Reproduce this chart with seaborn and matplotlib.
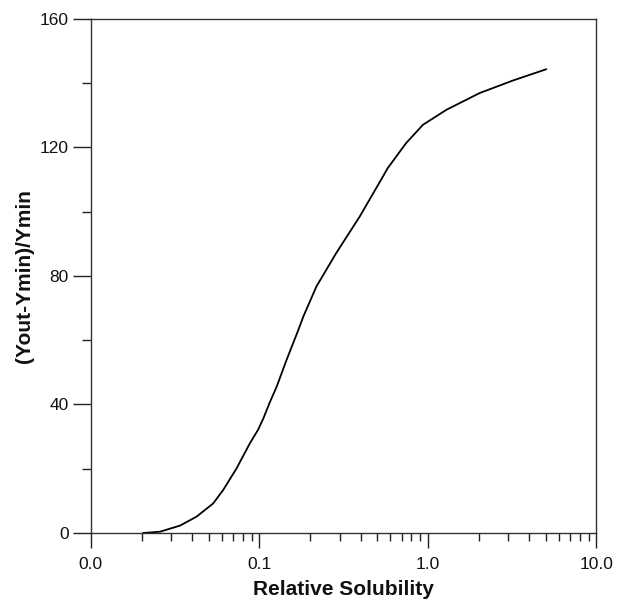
import numpy as np
import pandas as pd
import matplotlib
matplotlib.use("Agg")
import matplotlib.pyplot as plt
import seaborn as sns
from matplotlib.ticker import FixedLocator, LogLocator, FuncFormatter, MultipleLocator

# curve (log x)
solubility = [0.0204, 0.0257, 0.0338, 0.0424, 0.0532, 0.061, 0.0732, 0.0878, 0.0982,
              0.1055, 0.115, 0.1266, 0.1449, 0.1704, 0.1822, 0.2181, 0.2859, 0.3946,
              0.5277, 0.5776, 0.7429, 0.9352, 1.2918, 2.0338, 3.206, 5.05]
response = [0.0, 0.4, 2.3, 5.1, 9.2, 13.4, 20.1, 27.9, 32.1,
            35.6, 40.5, 45.5, 53.8, 63.2, 67.3, 76.7, 87.1, 98.5,
            109.9, 113.5, 121.3, 127.0, 131.7, 136.9, 140.8, 144.3]
x_ticks = [0.01, 0.1, 1.0, 10.0]
y_ticks = [0, 40, 80, 120, 160]

df = pd.DataFrame({"x": solubility, "y": response})

sns.set_theme(style="ticks")
plt.rcParams["font.family"] = ["Liberation Sans", "DejaVu Sans"]

fig = plt.figure(figsize=(6.27, 6.05), dpi=100)
ax = fig.add_axes([0.145, 0.119, 0.806, 0.850])

sns.lineplot(data=df, x="x", y="y", color="black", linewidth=1.3, ax=ax)

ax.set_xscale("log")
ax.set_xlim(0.01, 10)
ax.set_ylim(0, 160)
ax.xaxis.set_major_locator(FixedLocator(x_ticks))
ax.xaxis.set_minor_locator(LogLocator(base=10, subs=np.arange(2, 10)))
ax.xaxis.set_major_formatter(FuncFormatter(lambda v, p: f"{v:.1f}"))
ax.xaxis.set_minor_formatter(FuncFormatter(lambda v, p: ""))
ax.yaxis.set_major_locator(FixedLocator(y_ticks))
ax.yaxis.set_minor_locator(MultipleLocator(20))

ax.tick_params(axis="x", which="major", length=11, width=1, pad=6, labelsize=12.5,
               color="#222222", labelcolor="#111111")
ax.tick_params(axis="x", which="minor", length=6, width=1, color="#222222")
ax.tick_params(axis="y", which="major", length=13, width=1, pad=3, labelsize=12.5,
               color="#222222", labelcolor="#111111")
ax.tick_params(axis="y", which="minor", length=6.5, width=1, color="#222222")

for side in ["top", "right", "left", "bottom"]:
    ax.spines[side].set_visible(True)
    ax.spines[side].set_color("#333333")
    ax.spines[side].set_linewidth(1)

ax.set_xlabel("Relative Solubility", fontsize=15, fontweight="bold", labelpad=6, color="#111111")
ax.set_ylabel("(Yout-Ymin)/Ymin", fontsize=15, fontweight="bold", labelpad=4, color="#111111")

fig.savefig("out.png", dpi=100)
